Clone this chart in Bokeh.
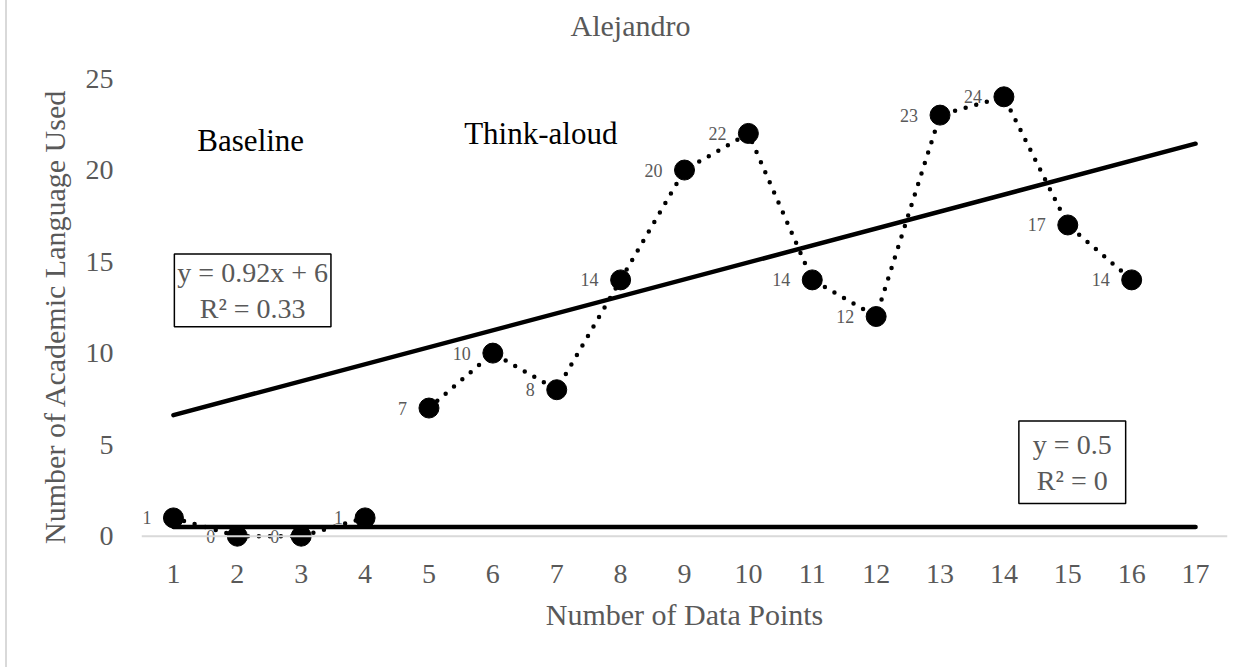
import numpy as np
from bokeh.plotting import figure
from bokeh.models import FixedTicker, Span, Label
from bokeh.core.properties import value
from bokeh.embed import file_html
from bokeh.resources import INLINE

# ---- data ----
title_text = "Alejandro"
x_title = "Number of Data Points"
y_title = "Number of Academic Language Used"
baseline_x = [1, 2, 3, 4]
baseline_y = [1, 0, 0, 1]
think_x = [5, 6, 7, 8, 9, 10, 11, 12, 13, 14, 15, 16]
think_y = [7, 10, 8, 14, 20, 22, 14, 12, 23, 24, 17, 14]
x_ticks = list(range(1, 18))
y_ticks = [0, 5, 10, 15, 20, 25]
phase_labels = ["Baseline", "Think-aloud"]
eq_baseline = "y = 0.5\nR² = 0"
eq_think = "y = 0.92x + 6\nR² = 0.33"
trend_x = [1, 17]

FONT = "Liberation Serif"
GRAY = "#595959"

# linear trendlines (least squares of each phase)
b_slope, b_int = np.polyfit(baseline_x, baseline_y, 1)
t_slope, t_int = np.polyfit(think_x, think_y, 1)
trend_base_y = [b_slope * x + b_int for x in trend_x]
trend_think_y = [t_slope * x + t_int for x in trend_x]

p = figure(width=1247, height=667, x_range=(0.5, 17.5), y_range=(-1, 25),
           output_backend="svg", toolbar_location=None,
           min_border_left=134, min_border_right=27,
           min_border_top=78, min_border_bottom=113)
p.styles = {"border-left": "2px solid #d9d9d9"}
p.margin = (0, 0, 0, 5)
p.outline_line_color = None
p.xgrid.visible = False
p.ygrid.visible = False
p.background_fill_color = "white"
p.border_fill_color = "white"

# chart title; the trailing blank line lifts it toward the top edge
p.title.text = title_text + "\n"
p.title.text_font = FONT
p.title.text_font_size = "30px"
p.title.text_font_style = "normal"
p.title.text_color = GRAY
p.title.align = "left"
p.title.offset = 429
p.title.vertical_align = "top"
p.title.standoff = 4

for ax in (p.xaxis, p.yaxis):
    ax.axis_line_color = None
    ax.major_tick_line_color = None
    ax.minor_tick_line_color = None
    ax.major_tick_out = 0
    ax.major_tick_in = 0
    ax.major_label_text_font = FONT
    ax.major_label_text_font_size = "28px"
    ax.major_label_text_color = GRAY
    ax.axis_label_text_font = FONT
    ax.axis_label_text_font_size = "30px"
    ax.axis_label_text_font_style = "normal"
    ax.axis_label_text_color = GRAY

p.xaxis.ticker = FixedTicker(ticks=x_ticks)
p.yaxis.ticker = FixedTicker(ticks=y_ticks)
p.xaxis.axis_label = x_title
p.yaxis.axis_label = y_title
p.xaxis.major_label_standoff = 10
p.xaxis.axis_label_standoff = 12
p.yaxis.major_label_standoff = 28
p.yaxis.axis_label_standoff = 12

p.add_layout(Span(location=0, dimension="width", line_color="#d9d9d9", line_width=2))

# trendlines
p.line(trend_x, trend_base_y, line_color="black", line_width=4.5, line_cap="round")
p.line(trend_x, trend_think_y, line_color="black", line_width=4.5, line_cap="round")

# data series
for xs, ys in ((baseline_x, baseline_y), (think_x, think_y)):
    p.line(xs, ys, line_color="black", line_width=4.5, line_dash="0 11", line_cap="round")
    p.scatter(xs, ys, size=20, fill_color="black", line_color="black")
    p.text(xs, ys, text=[str(v) for v in ys], x_offset=-22,
           text_align="right", text_baseline="middle",
           text_font=value(FONT), text_font_size="18px", text_color=GRAY)

# phase labels
p.add_layout(Label(x=2.21, y=21.6, text=phase_labels[0], text_font=FONT,
                   text_font_size="31px", text_color="black",
                   text_align="center", text_baseline="middle"))
p.add_layout(Label(x=6.75, y=22.0, text=phase_labels[1], text_font=FONT,
                   text_font_size="31px", text_color="black",
                   text_align="center", text_baseline="middle"))

# trendline equation boxes
for (lx, ly, txt, pad) in ((2.24, 13.43, eq_think, (3, 3)), (15.07, 4.04, eq_baseline, (14, 8))):
    p.add_layout(Label(x=lx, y=ly, text=txt, text_font=FONT,
                       text_font_size="28px", text_color=GRAY,
                       text_align="center", text_baseline="middle",
                       text_line_height=1.15,
                       border_line_color="black", border_line_width=1.5,
                       background_fill_color="white", padding=pad))

open("out.html", "w").write(file_html(p, INLINE))
